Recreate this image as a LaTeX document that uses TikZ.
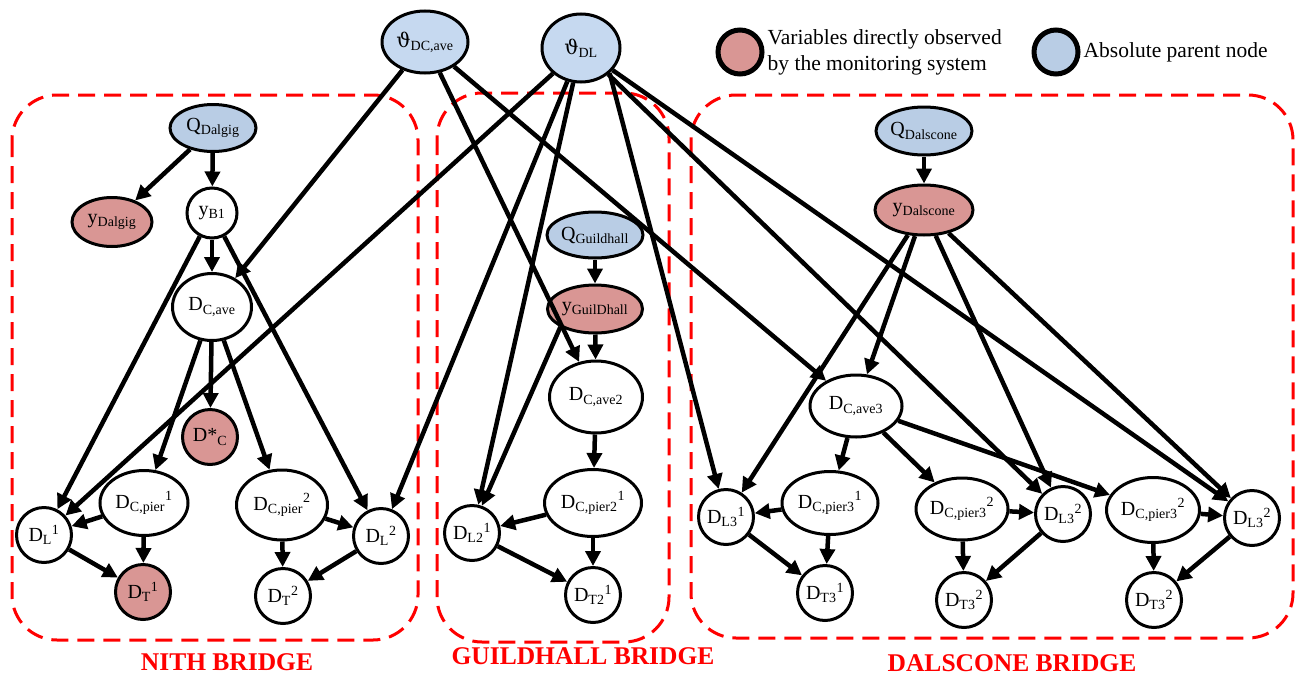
\documentclass[tikz,border=0pt]{standalone}
\usepackage{amsmath}
\usepackage{fontspec}
\setmainfont{Liberation Serif}
\newfontfamily\greekfont{DejaVu Serif}
\usepackage{tikz}
\usetikzlibrary{shapes.geometric, arrows.meta}
\usepackage{xcolor}
\definecolor{obsred}{RGB}{217,150,148}
\definecolor{parblue}{RGB}{185,205,229}
\definecolor{thetablue}{RGB}{198,217,240}
\newcommand{\nv}[2]{#1$_{\text{#2}}$}
\newcommand{\nvs}[3]{#1$_{\text{#2}}{}^{\text{#3}}$}

\begin{document}
\begin{tikzpicture}[x=1pt, y=-1pt,
    every node/.style={font=\fontsize{20}{23}\selectfont, inner sep=0pt},
    varnode/.style={circle, draw, line width=3pt, fill=white, minimum size=55pt},
    ellnode/.style={ellipse, draw, line width=3pt, fill=white, minimum width=92pt, minimum height=64pt},
    observed/.style={fill=obsred},
    parent/.style={fill=parblue},
    arr/.style={-{Triangle[length=15pt, width=15pt]}, line width=4.5pt},
    bridgebox/.style={draw=red, line width=3pt, dash pattern=on 17pt off 9pt, rounded corners=45pt},
    bridgelabel/.style={text=red, font=\fontsize{25.5}{28}\selectfont\bfseries}]
    \useasboundingbox (0,0) rectangle (1305,680);

    % Caixas das pontes
    \draw[bridgebox] (12,95) rectangle (418,640);
    \draw[bridgebox] (437,93) rectangle (669,642);
    \draw[bridgebox] (691,95) rectangle (1293,638);

    % Nós pais absolutos
    \node[ellnode, fill=thetablue, minimum width=86pt, minimum height=62pt] (thdc) at (425,42) {\nv{{\greekfont ϑ}}{DC,ave}};
    \node[ellnode, fill=thetablue, minimum width=78pt, minimum height=68pt] (thdl) at (581,48) {\nv{{\greekfont ϑ}}{DL}};

    % Legenda
    \node[circle, draw, line width=5pt, fill=obsred, minimum size=44pt] (legobs) at (740,52) {};
    \node[anchor=west, align=left, font=\fontsize{21.5}{26}\selectfont] (legobstext) at ([xshift=3pt]legobs.east) {Variables directly observed\\by the monitoring system};
    \node[circle, draw, line width=5pt, fill=parblue, minimum size=44pt] (legpar) at (1056,52) {};
    \node[anchor=west, font=\fontsize{21.5}{26}\selectfont] (legpartext) at ([xshift=3pt]legpar.east) {Absolute parent node};

    % Nith bridge
    \node[ellnode, parent, minimum width=86pt, minimum height=47pt] (qdalgig) at (213,128) {\nv{Q}{Dalgig}};
    \node[ellnode, observed, minimum width=80pt, minimum height=49pt] (ydalgig) at (112,222) {\nv{y}{Dalgig}};
    \node[varnode, minimum size=50pt] (yb1) at (212,213) {\nv{y}{B1}};
    \node[ellnode, minimum width=79pt, minimum height=67pt] (dcave) at (212,307) {\nv{D}{C,ave}};
    \node[varnode, observed] (dstar) at (210,437) {\nv{D*}{C}};
    \node[varnode] (dl1) at (44,535) {\nvs{D}{L}{1}};
    \node[ellnode, minimum width=88pt, minimum height=65pt] (dcpier1) at (144,503) {\nvs{D}{C,pier}{1}};
    \node[varnode, observed] (dt1) at (143,592) {\nvs{D}{T}{1}};
    \node[ellnode, minimum width=91pt, minimum height=70pt] (dcpier2) at (282,505) {\nvs{D}{C,pier}{2}};
    \node[varnode] (dl2) at (381,536) {\nvs{D}{L}{2}};
    \node[varnode] (dt2) at (283,596) {\nvs{D}{T}{2}};
    \node[bridgelabel] (nithlabel) at (227,662) {NITH BRIDGE};

    % Guildhall bridge
    \node[ellnode, parent, minimum width=96pt, minimum height=46pt] (qguild) at (595,235) {\nv{Q}{Guildhall}};
    \node[ellnode, observed, minimum width=95pt, minimum height=48pt] (yguild) at (595,309) {\nv{y}{GuilDhall}};
    \node[ellnode, minimum width=93pt, minimum height=72pt] (dcave2) at (596,397) {\nv{D}{C,ave2}};
    \node[ellnode, minimum width=97pt, minimum height=67pt] (dcpier21) at (593,503) {\nvs{D}{C,pier2}{1}};
    \node[varnode] (dl21) at (472,533) {\nvs{D}{L2}{1}};
    \node[varnode] (dt21) at (593,595) {\nvs{D}{T2}{1}};
    \node[bridgelabel] (guildlabel) at (583,656) {GUILDHALL BRIDGE};

    % Dalscone bridge
    \node[ellnode, parent, minimum width=96pt, minimum height=48pt] (qdals) at (924,131) {\nv{Q}{Dalscone}};
    \node[ellnode, observed, minimum width=98pt, minimum height=50pt] (ydals) at (924,210) {\nv{y}{Dalscone}};
    \node[ellnode, minimum width=92pt, minimum height=62pt] (dcave3) at (856,406) {\nv{D}{C,ave3}};
    \node[varnode] (dl31) at (726,517) {\nvs{D}{L3}{1}};
    \node[ellnode, minimum width=96pt, minimum height=63pt] (dcpier31) at (830,503) {\nvs{D}{C,pier3}{1}};
    \node[varnode] (dt31) at (825,593) {\nvs{D}{T3}{1}};
    \node[ellnode, minimum width=92pt, minimum height=62pt] (dcpier32a) at (962,509) {\nvs{D}{C,pier3}{2}};
    \node[varnode] (dl32a) at (1063,514) {\nvs{D}{L3}{2}};
    \node[varnode] (dt32a) at (964,600) {\nvs{D}{T3}{2}};
    \node[ellnode, minimum width=93pt, minimum height=65pt] (dcpier32b) at (1153,510) {\nvs{D}{C,pier3}{2}};
    \node[varnode] (dl32b) at (1252,518) {\nvs{D}{L3}{2}};
    \node[varnode] (dt32b) at (1154,600) {\nvs{D}{T3}{2}};
    \node[bridgelabel] (dalslabel) at (1012,663) {DALSCONE BRIDGE};

    % Arcos dos pais absolutos
    \draw[arr] (thdc) -- (dcave);
    \draw[arr] (thdc) -- (dcave2);
    \draw[arr] (thdc) -- (dcave3);
    \draw[arr] (thdl) -- (dl1);
    \draw[arr] (thdl) -- (dl2);
    \draw[arr] (thdl) -- (dl21);
    \draw[arr] (thdl.south east) -- (dl31);
    \draw[arr] (thdl) -- (dl32a);
    \draw[arr] (thdl) -- (dl32b);

    % Arcos - Nith
    \draw[arr] (qdalgig) -- (ydalgig);
    \draw[arr] (qdalgig) -- (yb1);
    \draw[arr] (yb1) -- (dcave);
    \draw[arr] (yb1) -- (dl1);
    \draw[arr] (yb1) -- (dl2);
    \draw[arr] (dcave) -- (dcpier1);
    \draw[arr] (dcave) -- (dstar);
    \draw[arr] (dcave) -- (dcpier2);
    \draw[arr] (dcpier1) -- (dl1);
    \draw[arr] (dcpier1) -- (dt1);
    \draw[arr] (dl1) -- (dt1);
    \draw[arr] (dcpier2) -- (dl2);
    \draw[arr] (dcpier2) -- (dt2);
    \draw[arr] (dl2) -- (dt2);

    % Arcos - Guildhall
    \draw[arr] (qguild) -- (yguild);
    \draw[arr] (yguild) -- (dcave2);
    \draw[arr] (yguild.south west) -- (dl21.70);
    \draw[arr] (dcave2) -- (dcpier21);
    \draw[arr] (dcpier21) -- (dl21);
    \draw[arr] (dcpier21) -- (dt21);
    \draw[arr] (dl21) -- (dt21);

    % Arcos - Dalscone
    \draw[arr] (qdals) -- (ydals);
    \draw[arr] (ydals) -- (dcave3);
    \draw[arr] (ydals) -- (dl31);
    \draw[arr] (ydals) -- (dl32a);
    \draw[arr] (ydals) -- (dl32b);
    \draw[arr] (dcave3) -- (dcpier31);
    \draw[arr] (dcave3) -- (dcpier32a);
    \draw[arr] (dcave3) -- (dcpier32b);
    \draw[arr] (dcpier31) -- (dl31);
    \draw[arr] (dcpier31) -- (dt31);
    \draw[arr] (dl31) -- (dt31);
    \draw[arr] (dcpier32a) -- (dl32a);
    \draw[arr] (dcpier32a) -- (dt32a);
    \draw[arr] (dl32a) -- (dt32a);
    \draw[arr] (dcpier32b) -- (dl32b);
    \draw[arr] (dcpier32b) -- (dt32b);
    \draw[arr] (dl32b) -- (dt32b);
\end{tikzpicture}
\end{document}
